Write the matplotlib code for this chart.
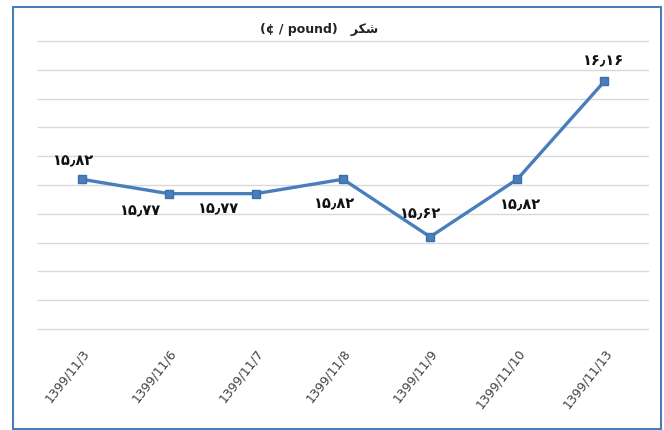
import matplotlib
matplotlib.use('Agg')
import matplotlib.pyplot as plt
from matplotlib.patches import Rectangle

# data
dates = ['1399/11/3', '1399/11/6', '1399/11/7', '1399/11/8',
         '1399/11/9', '1399/11/10', '1399/11/13']
prices = [15.82, 15.77, 15.77, 15.82, 15.62, 15.82, 16.16]

# where each value label sits relative to its point (pixels, +y = down)
label_dx = [-8, -28, -37, -8, -10, 3, -1]
label_dy = [-19, 16, 14, 24, -24, 25, -21]

PERSIAN = str.maketrans('0123456789.', '\u06f0\u06f1\u06f2\u06f3\u06f4\u06f5\u06f6\u06f7\u06f8\u06f9\u066b')
# "شکر" in visual (shaped) order
title_fa = '\uFEAE\uFB91\uFEB7'

W, H = 664, 431
fig = plt.figure(figsize=(W / 100, H / 100), dpi=100)
fig.patch.set_facecolor('white')

# outer chart frame
fig.patches.append(Rectangle((13 / W, 1 / H), 648 / W, 422 / H,
                             transform=fig.transFigure, fill=False,
                             edgecolor='#4a7ebb', linewidth=1.5))

ax = fig.add_axes([38 / W, 1 - 330 / H, 610 / W, 288 / H])
x = list(range(len(dates)))
ax.plot(x, prices, color='#4a7ebb', linewidth=2.4, marker='s',
        markersize=6, markerfacecolor='#4a7ebb', markeredgecolor='#3a6fb0',
        zorder=3)

px = 72 / 100  # pixels -> points
for i, v in enumerate(prices):
    txt = ('%.2f' % v).translate(PERSIAN)
    ax.annotate(txt, (i, v), xytext=(label_dx[i] * px, -label_dy[i] * px),
                textcoords='offset points', ha='center', va='center',
                fontsize=10.5, fontweight='bold', color='#111111',
                family=['DejaVu Sans'])

ax.set_xlim(-0.5, len(dates) - 0.5)
ax.set_ylim(15.3, 16.3)
ax.set_yticks([15.3 + 0.1 * k for k in range(11)])
ax.yaxis.grid(True, color='#d9d9d9', linewidth=1)
for gl in ax.get_ygridlines():
    gl.set_clip_on(False)
ax.tick_params(axis='y', left=False, labelleft=False)
ax.tick_params(axis='x', length=0, pad=12)
ax.set_xticks(x)
ax.set_xticklabels(dates, rotation=52, ha='right', rotation_mode='anchor',
                   fontsize=9, color='#404040')
for sp in ax.spines.values():
    sp.set_visible(False)

fig.text(0.48, 1 - 30 / H, '(\u00a2 / pound)   ' + title_fa, ha='center',
         va='center', fontsize=9, fontweight='bold', color='#222222',
         family=['DejaVu Sans'])

fig.savefig('out.png', dpi=100)
